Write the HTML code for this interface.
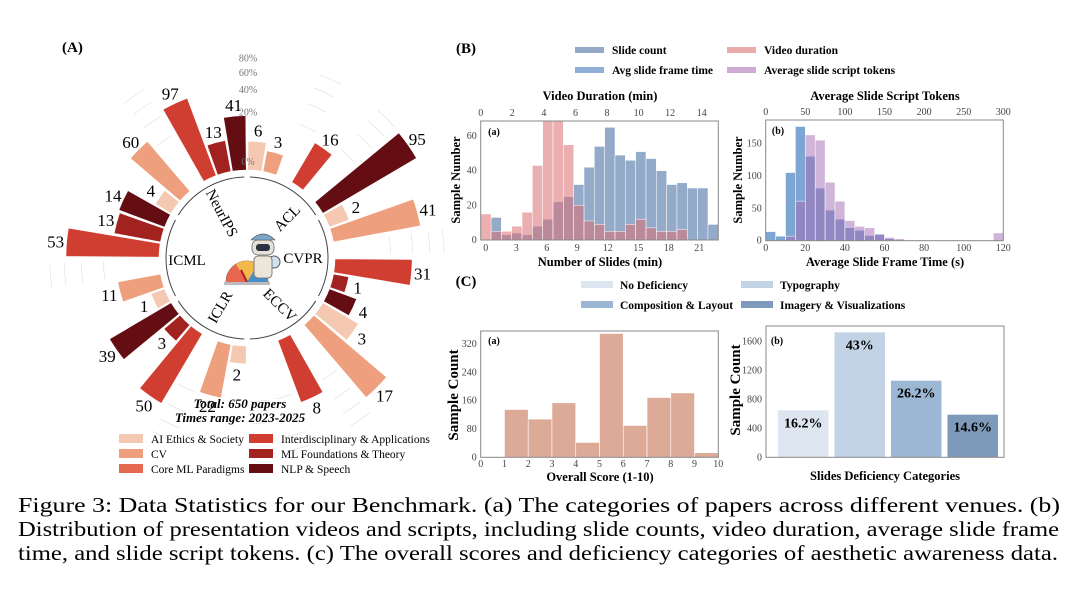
<!DOCTYPE html>
<html><head><meta charset="utf-8"><style>
html,body{margin:0;padding:0;background:#fff;}
svg{display:block;font-family:"Liberation Serif",serif;}
</style></head><body>
<svg id="fig" width="1080" height="589" viewBox="0 0 1080 589" xmlns="http://www.w3.org/2000/svg">
<g id="gA"></g>
<g id="gB1"></g>
<g id="gB2"></g>
<g id="gC1"></g>
<g id="gC2"></g>
<g id="cap">
<text x="18" y="512" font-size="21" textLength="1042" lengthAdjust="spacingAndGlyphs">Figure 3: Data Statistics for our Benchmark. (a) The categories of papers across different venues. (b)</text>
<text x="18" y="536" font-size="21" textLength="1041" lengthAdjust="spacingAndGlyphs">Distribution of presentation videos and scripts, including slide counts, video duration, average slide frame</text>
<text x="18" y="560" font-size="21" textLength="1040" lengthAdjust="spacingAndGlyphs">time, and slide script tokens. (c) The overall scores and deficiency categories of aesthetic awareness data.</text>
</g>
</svg>
<script>
// ---------- Panel A data ----------
const venues = ["ACL","CVPR","ECCV","ICLR","ICML","NeurIPS"];
const categories = ["AI  Ethics & Society","CV","Core ML Paradigms","Interdisciplinary & Applications","ML Foundations & Theory","NLP & Speech"];
const acl = [6,3,0,16,0,95];
const cvpr = [2,41,0,31,1,4];
const eccv = [3,17,0,8,0,0];
const iclr = [2,22,0,50,3,39];
const icml = [1,11,0,53,13,14];
const neurips = [4,60,0,97,13,41];
const gridPct = [20,40,60,80];
// ---------- Panel B data ----------
const slideCounts = [0,13,3,4,3,8,12,22,25,32,42,54,65,49,46,51,47,40,32,33,30,30,9];
const videoDur = [15,5,5,8,16,43,95,80,55,20,11,9,5,5,9,12,7,5,5,6,0,0,0];
const slideTicks = [0,3,6,9,12,15,18,21];
const durTicks = [0,2,4,6,8,10,12,14];
const yTicksB1 = [0,20,40,60];
const frameTime = [14,7,105,176,130,81,47,33,20,16,8,10,3,1,0,0,0,0,0,0,0,0,0,0];
const scriptTokens = [0,0,7,61,163,155,90,61,31,22,20,10,5,3,1,1,0,0,0,0,0,0,0,12];
const frameTicks = [0,20,40,60,80,100,120];
const tokenTicks = [0,50,100,150,200,250,300];
const yTicksB2 = [0,50,100,150];
// ---------- Panel C data ----------
const scoreBins = [0,1,2,3,4,5,6,7,8,9];
const scoreCounts = [0,135,108,154,42,350,90,169,182,13];
const scoreTicks = [0,1,2,3,4,5,6,7,8,9,10];
const yTicksC1 = [0,80,160,240,320];
const defCats = ["No Deficiency","Typography","Composition & Layout","Imagery & Visualizations"];
const defCounts = [650,1730,1060,590];
const defLabels = ["16.2%","43%","26.2%","14.6%"];
const yTicksC2 = [0,400,800,1200,1600];

const NS="http://www.w3.org/2000/svg";
function mk(parent,tag,attrs,txt){const e=document.createElementNS(NS,tag);for(const k in attrs)e.setAttribute(k,attrs[k]);if(txt!==undefined)e.textContent=txt;parent.appendChild(e);return e;}

// ================= Panel A =================
(function(){
const g=document.getElementById('gA');
const cx=247, cy=258, base=88, R0=90, K=12;
const colors=["#f5c8b2","#eea07e","#e56a4f","#d03e32","#a2221f","#640e14"];
const rad=p=>R0+K*Math.sqrt(p);
const pt=(r,a)=>{const t=a*Math.PI/180;return [cx+r*Math.sin(t),cy-r*Math.cos(t)];};
let t=mk(g,'text',{x:62,y:52,'font-size':15,'font-weight':'bold'},'(A)');


const data=[acl,cvpr,eccv,iclr,icml,neurips];
data.forEach((arr,vi)=>{arr.forEach((v,ci)=>{if(v>0)return;const a=vi*60+ci*10+5;
 gridPct.forEach(p=>{const r=rad(p);const [x1,y1]=pt(r,a-3.5),[x2,y2]=pt(r,a+3.5);
 const e=mk(g,'path',{d:`M${x1},${y1}A${r},${r} 0 0 1 ${x2},${y2}`,fill:'none',stroke:'#e2e2e2','stroke-width':0.7});
 
 });});});
venues.forEach((vn,vi)=>{const r=81;const [x1,y1]=pt(r,vi*60+2),[x2,y2]=pt(r,vi*60+58);
 const e=mk(g,'path',{d:`M${x1},${y1}A${r},${r} 0 0 1 ${x2},${y2}`,fill:'none',stroke:'#444','stroke-width':1});
 
 });
data.forEach((arr,vi)=>{const tot=arr.reduce((s,v)=>s+v,0);
 arr.forEach((v,ci)=>{if(v<=0)return;const pct=v/tot*100;const a=vi*60+ci*10+5;const r1=rad(pct);
  const w=4.5;const [ax,ay]=pt(base,a-w),[bx,by]=pt(r1,a-w),[cx2,cy2]=pt(r1,a+w),[dx,dy]=pt(base,a+w);
  const e=mk(g,'path',{d:`M${ax},${ay}L${bx},${by}A${r1},${r1} 0 0 1 ${cx2},${cy2}L${dx},${dy}A${base},${base} 0 0 0 ${ax},${ay}Z`,fill:colors[ci],stroke:'#fff','stroke-width':0.6});
  
  
  const [lx,ly]=pt(r1+11,a);
  const l=mk(g,'text',{x:lx,y:ly+6,'font-size':17,'text-anchor':'middle'},String(v));
  
  });});
[0].concat(gridPct).forEach(p=>{const r=p===0?96:rad(p)+2;
 const l=mk(g,'text',{x:cx+1,y:cy-r+3,'font-size':10,fill:'#777','text-anchor':'middle'},p+'%');
 
 });
const vl=[["NeurIPS",222,213,62],["ACL",287,218,-45],["CVPR",303,258,0],["ECCV",280,305,45],["ICLR",220,307,-60],["ICML",187,260,0]];
vl.forEach(([n,x,y,r])=>{const l=mk(g,'text',{x:x,y:y+5,'font-size':15,'text-anchor':'middle',transform:`rotate(${r} ${x} ${y})`},n);
 
 });
const rb=mk(g,'g',{});


mk(rb,'path',{d:`M226,282A21,21 0 0 1 268,282Z`,fill:'#e9e9e9',stroke:'#555','stroke-width':0.8});
mk(rb,'path',{d:`M226,282A21,21 0 0 1 236,264L247,282Z`,fill:'#e8674e'});
mk(rb,'path',{d:`M236,264A21,21 0 0 1 258,264L247,282Z`,fill:'#f2b94a'});
mk(rb,'path',{d:`M258,264A21,21 0 0 1 268,282L247,282Z`,fill:'#4a90c8'});
mk(rb,'rect',{x:252,y:240,width:22,height:15,rx:6,fill:'#e6e1d6',stroke:'#666','stroke-width':0.8});
mk(rb,'rect',{x:256,y:244,width:14,height:7,rx:3,fill:'#2b3240'});
mk(rb,'path',{d:'M251,240Q263,228 275,240Z',fill:'#7aa7c8',stroke:'#555','stroke-width':0.6});
mk(rb,'circle',{cx:274,cy:262,r:6,fill:'#cfe3ee',stroke:'#555','stroke-width':1});
mk(rb,'rect',{x:254,y:256,width:18,height:22,rx:4,fill:'#ece6da',stroke:'#666','stroke-width':0.8});
mk(rb,'line',{x1:247,y1:282,x2:241,y2:270,stroke:'#a22','stroke-width':2});
mk(rb,'rect',{x:224,y:282,width:46,height:3,fill:'#bbb'});
let tt=mk(g,'text',{x:240,y:408,'font-size':13,'font-weight':'bold','font-style':'italic','text-anchor':'middle'},'Total: 650 papers');


tt=mk(g,'text',{x:240,y:422,'font-size':13,'font-weight':'bold','font-style':'italic','text-anchor':'middle'},'Times range: 2023-2025');


categories.forEach((c,i)=>{const col=Math.floor(i/3),row=i%3;const x=col?249:119,y=434+row*15;
 const s=mk(g,'rect',{x:x,y:y,width:24,height:9,fill:colors[i]});
 
 
 const l=mk(g,'text',{x:x+32,y:y+9,'font-size':11.5},c);
 
 });
})();

function frame(g,x0,y0,x1,y1){const e=mk(g,'rect',{x:x0,y:y0,width:x1-x0,height:y1-y0,fill:'none',stroke:'#888','stroke-width':1});
 
 }
function tick(g,x,y,s,anchor,size,name){const l=mk(g,'text',{x:x,y:y,'font-size':size||10,fill:'#444','text-anchor':anchor||'middle'},s);
 
 return l;}
function label(g,x,y,s,size,rot,name){const a={x:x,y:y,'font-size':size,'font-weight':'bold','text-anchor':'middle'};if(rot)a.transform=`rotate(-90 ${x} ${y})`;const l=mk(g,'text',a,s);
 
 return l;}

(function(){
const g=document.getElementById('gB1');
label(g,466,53,'(B)',15,false,'panel-b-label');
const items=[["Slide count","#95a9c9",575,50],["Video duration","#eaabab",727,50],["Avg slide frame time","#8fb0d6",575,70],["Average slide script tokens","#cfaad4",727,70]];
items.forEach(([n,c,x,y])=>{const s=mk(g,'rect',{x:x,y:y-3,width:29,height:6,fill:c});
 
 
 const l=mk(g,'text',{x:x+37,y:y+4,'font-size':11.5,'font-weight':'bold'},n);
 
 });
})();

(function(){
const g=document.getElementById('gB1');
const X0=480.7,X1=718.3,Y0=121,Y1=240,bw=(X1-X0)/slideCounts.length;
const yS=v=>Y1-v*1.733;
const xBin=i=>X0+i*bw;
const xSlide=s=>485.7+s*10.17;
const xDur=m=>480.7+m*15.79;
const cp=mk(g,'clipPath',{id:'cpb1'});mk(cp,'rect',{x:X0,y:Y0,width:X1-X0,height:Y1-Y0});
const bars=mk(g,'g',{'clip-path':'url(#cpb1)'});
slideCounts.forEach((v,i)=>{if(!v)return;const e=mk(bars,'rect',{x:xBin(i),y:yS(v),width:bw,height:Y1-yS(v),fill:'#93aac9',stroke:'#fff','stroke-width':0.5});
 
 });
videoDur.forEach((v,i)=>{if(!v)return;const e=mk(bars,'rect',{x:xBin(i),y:yS(v),width:bw,height:Y1-yS(v),fill:'#da6e72','fill-opacity':0.55,stroke:'#fff','stroke-width':0.5});
 
 });
frame(g,X0,Y0,X1,Y1);
slideTicks.forEach(s=>tick(g,xSlide(s),251,String(s)));
durTicks.forEach(m=>tick(g,xDur(m),116,String(m)));
yTicksB1.forEach(v=>tick(g,X0-4,yS(v)+3,String(v),'end'));
label(g,600,100,'Video Duration (min)',12.5,false,'top-axis-title');
label(g,600,266,'Number of Slides (min)',12.5,false,'x-axis-title');
label(g,460,180,'Sample Number',12.5,true,'y-axis-title');
label(g,494,135,'(a)',10,false,'subplot-label');
})();

(function(){
const g=document.getElementById('gB2');
const X0=765.7,X1=1003.3,Y0=120,Y1=240.7,bw=(X1-X0)/frameTime.length;
const yS=v=>Y1-v*0.649;
const xBin=i=>X0+i*bw;
const xF=s=>X0+s*(X1-X0)/120;
const xT=t=>X0+t*(X1-X0)/300;
frameTime.forEach((v,i)=>{if(!v)return;const e=mk(g,'rect',{x:xBin(i),y:yS(v),width:bw,height:Y1-yS(v),fill:'#7ea6d3',stroke:'#fff','stroke-width':0.5});
 
 });
scriptTokens.forEach((v,i)=>{if(!v)return;const e=mk(g,'rect',{x:xBin(i),y:yS(v),width:bw,height:Y1-yS(v),fill:'#a369b4','fill-opacity':0.5,stroke:'#fff','stroke-width':0.5});
 
 });
frame(g,X0,Y0,X1,Y1);
frameTicks.forEach(s=>tick(g,xF(s),251,String(s)));
tokenTicks.forEach(t=>tick(g,xT(t),115,String(t)));
yTicksB2.forEach(v=>tick(g,X0-4,yS(v)+3,String(v),'end'));
label(g,885,100,'Average Slide Script Tokens',12.5,false,'top-axis-title');
label(g,885,266,'Average Slide Frame Time (s)',12.5,false,'x-axis-title');
label(g,742,180,'Sample Number',12.5,true,'y-axis-title');
label(g,778,134,'(b)',10,false,'subplot-label');
})();

(function(){
const g=document.getElementById('gC1');
label(g,466,286,'(C)',15,false,'panel-c-label');
const cols=["#dde6f0","#c3d3e6","#9bb7d4","#7d9aba"];
const pos=[[581,284],[741,284],[581,304],[741,304]];
defCats.forEach((n,i)=>{const [x,y]=pos[i];const s=mk(g,'rect',{x:x,y:y-3,width:32,height:7,fill:cols[i]});
 
 
 const l=mk(g,'text',{x:x+39,y:y+5,'font-size':11.5,'font-weight':'bold'},n);
 
 });
})();

(function(){
const g=document.getElementById('gC1');
const X0=480.7,X1=718.3,Y0=331,Y1=457.3;
const xS=s=>X0+s*(X1-X0)/10;
const yS=v=>Y1-v*(Y1-Y0)/357;
scoreBins.forEach((b,i)=>{const v=scoreCounts[i];const e=mk(g,'rect',{x:xS(b),y:yS(v),width:xS(b+1)-xS(b),height:Math.max(0.6,Y1-yS(v)),fill:'#deaa98',stroke:'#fff','stroke-width':0.6});
 
 });
frame(g,X0,Y0,X1,Y1);
scoreTicks.forEach(s=>tick(g,xS(s),467,String(s)));
yTicksC1.forEach(v=>tick(g,X0-4,yS(v)+3,String(v),'end'));
label(g,600,481,'Overall Score (1-10)',12.5,false,'x-axis-title');
label(g,458,395,'Sample  Count',15,true,'y-axis-title');
label(g,494,344,'(a)',10,false,'subplot-label');
})();

(function(){
const g=document.getElementById('gC2');
const X0=766,X1=1004,Y0=326,Y1=457.3;
const cols=["#dde6f0","#c3d3e6","#9bb7d4","#7d9aba"];
const yS=v=>Y1-v*(Y1-Y0)/1817;
const slot=(X1-X0-12)/defCounts.length;
const xC=i=>X0+12+i*slot;
defCounts.forEach((v,i)=>{const e=mk(g,'rect',{x:xC(i),y:yS(v),width:slot-6,height:Y1-yS(v),fill:cols[i]});
 
 
 const l=mk(g,'text',{x:xC(i)+(slot-6)/2,y:yS(v)+17,'font-size':14,'font-weight':'bold','text-anchor':'middle'},defLabels[i]);
 
 });
frame(g,X0,Y0,X1,Y1);
yTicksC2.forEach(v=>tick(g,X0-4,yS(v)+3,String(v),'end'));
label(g,885,480,'Slides Deficiency Categories',12.5,false,'x-axis-title');
label(g,740,390,'Sample  Count',15,true,'y-axis-title');
label(g,777,344,'(b)',10,false,'subplot-label');
})();
</script>
</body></html>
